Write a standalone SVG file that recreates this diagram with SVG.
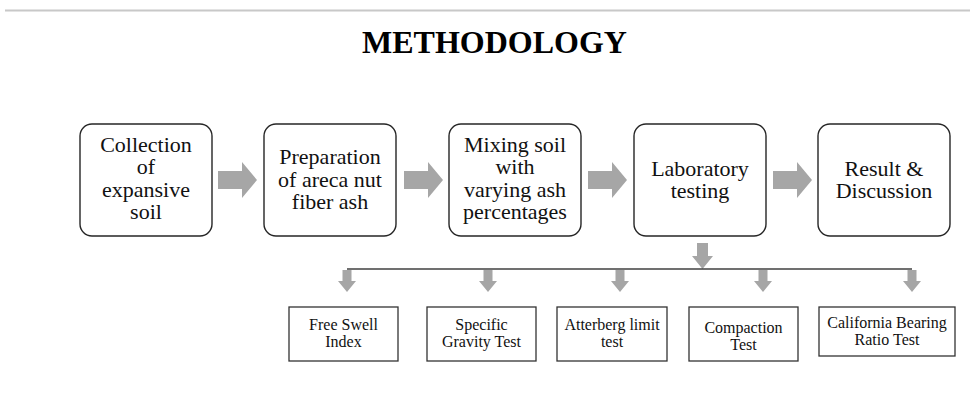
<svg xmlns="http://www.w3.org/2000/svg" width="970" height="398" viewBox="0 0 970 398">
<style>
.bg{fill:#ffffff}
.step rect{fill:#ffffff;stroke:#262626;stroke-width:1.4}
.test rect{fill:#ffffff;stroke:#333333;stroke-width:1.3}
text{font-family:"Liberation Serif","Times New Roman",Times,"DejaVu Serif",serif;font-weight:400;fill:#111;text-anchor:middle}
.t22{font-size:22px}
.t16{font-size:16px}
.title{font-size:32px;font-weight:700;fill:#000}
.arr{fill:#a6a6a6}
.bus{fill:none;stroke:#404040;stroke-width:1.5}
</style>
<defs>
<path id="rarrow" d="M0,171 H24 V162 L39,180 L24,198 V189 H0 Z"/>
<path id="sdown" d="M-4.5,270 H4.5 V281 H9 L0,292 L-9,281 H-4.5 Z"/>
</defs>
<rect class="bg" x="0" y="0" width="970" height="398"/>
<line x1="5" y1="10.5" x2="970" y2="10.5" stroke="#c8c8c8" stroke-width="2"/>
<text class="title" x="494.5" y="53" font-family="Liberation Serif">METHODOLOGY</text>

<g id="n1" class="step">
<rect x="80" y="124" width="132" height="112" rx="12"/>
<text class="t22" font-family="Liberation Serif" x="146" y="151.5">Collection</text>
<text class="t22" font-family="Liberation Serif" x="146" y="174">of</text>
<text class="t22" font-family="Liberation Serif" x="146" y="196.5">expansive</text>
<text class="t22" font-family="Liberation Serif" x="146" y="219">soil</text>
</g>
<g id="n2" class="step">
<rect x="264" y="124" width="132" height="112" rx="12"/>
<text class="t22" font-family="Liberation Serif" x="330" y="164">Preparation</text>
<text class="t22" font-family="Liberation Serif" x="330" y="186.5">of areca nut</text>
<text class="t22" font-family="Liberation Serif" x="330" y="209">fiber ash</text>
</g>
<g id="n3" class="step">
<rect x="449" y="124" width="132" height="112" rx="12"/>
<text class="t22" font-family="Liberation Serif" x="515" y="151.5">Mixing soil</text>
<text class="t22" font-family="Liberation Serif" x="515" y="174">with</text>
<text class="t22" font-family="Liberation Serif" x="515" y="196.5">varying ash</text>
<text class="t22" font-family="Liberation Serif" x="515" y="219">percentages</text>
</g>
<g id="n4" class="step">
<rect x="634" y="124" width="132" height="112" rx="12"/>
<text class="t22" font-family="Liberation Serif" x="700" y="175.5">Laboratory</text>
<text class="t22" font-family="Liberation Serif" x="700" y="198">testing</text>
</g>
<g id="n5" class="step">
<rect x="818" y="124" width="132" height="112" rx="12"/>
<text class="t22" font-family="Liberation Serif" x="884" y="175.5">Result &amp;</text>
<text class="t22" font-family="Liberation Serif" x="884" y="198">Discussion</text>
</g>

<g id="t1" class="test">
<rect x="289" y="307" width="109" height="54"/>
<text class="t16" font-family="Liberation Serif" x="343.5" y="330">Free Swell</text>
<text class="t16" font-family="Liberation Serif" x="343.5" y="347">Index</text>
</g>
<g id="t2" class="test">
<rect x="427" y="307" width="109" height="54"/>
<text class="t16" font-family="Liberation Serif" x="481.5" y="330">Specific</text>
<text class="t16" font-family="Liberation Serif" x="481.5" y="347">Gravity Test</text>
</g>
<g id="t3" class="test">
<rect x="557" y="307" width="110" height="54"/>
<text class="t16" font-family="Liberation Serif" x="612" y="330">Atterberg limit</text>
<text class="t16" font-family="Liberation Serif" x="612" y="347">test</text>
</g>
<g id="t4" class="test">
<rect x="689" y="307" width="109" height="54"/>
<text class="t16" font-family="Liberation Serif" x="743.5" y="333">Compaction</text>
<text class="t16" font-family="Liberation Serif" x="743.5" y="350">Test</text>
</g>
<g id="t5" class="test">
<rect x="819" y="307" width="136" height="49"/>
<text class="t16" font-family="Liberation Serif" x="887" y="328">California Bearing</text>
<text class="t16" font-family="Liberation Serif" x="887" y="345">Ratio Test</text>
</g>

<g id="connectors">
<use href="#rarrow" class="arr" x="218"/>
<use href="#rarrow" class="arr" x="404"/>
<use href="#rarrow" class="arr" x="588"/>
<use href="#rarrow" class="arr" x="773"/>
<path class="arr" d="M697,243 H708 V256 H713 L702.5,269 L692,256 H697 Z"/>
<path class="bus" d="M347,269 H912"/>
<use href="#sdown" class="arr" x="347"/>
<use href="#sdown" class="arr" x="488"/>
<use href="#sdown" class="arr" x="620"/>
<use href="#sdown" class="arr" x="763"/>
<use href="#sdown" class="arr" x="912"/>
</g>
</svg>
